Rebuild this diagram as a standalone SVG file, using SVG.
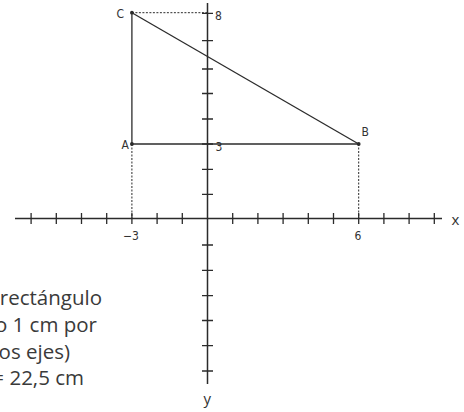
<svg xmlns="http://www.w3.org/2000/svg" width="464" height="412" viewBox="0 0 464 412">
<style>
.ax{stroke:#2b2b2b;stroke-width:1.5;fill:none}
.tk{stroke:#2b2b2b;stroke-width:1.3;fill:none}
.ln{stroke:#2b2b2b;stroke-width:1.3;fill:none}
.dt{stroke:#2b2b2b;stroke-width:1;stroke-dasharray:2 1.5;fill:none}
.pt{fill:#2b2b2b}
.lb{font-family:"Liberation Sans Narrow","DejaVu Sans Condensed","Liberation Sans",sans-serif;font-size:12px;fill:#333}
.axl{font-family:"Open Sans","Liberation Sans",sans-serif;font-size:15px;fill:#333}
.tx{font-family:"Open Sans","Liberation Sans",sans-serif;font-size:20.5px;fill:#3a3a3a;text-anchor:end}
</style>
<rect width="464" height="412" fill="#fff"/>
<g id="axes">
<line class="ax" x1="15" y1="218.5" x2="442" y2="218.5"/>
<line class="ax" x1="207.5" y1="3" x2="207.5" y2="384"/>
<g id="x-ticks">
<path class="tk" d="M31.1 213v11M56.3 213v11M81.5 213v11M106.7 213v11M131.9 213v11M157.1 213v11M182.3 213v11M232.7 213v11M257.9 213v11M283.1 213v11M308.3 213v11M333.5 213v11M358.7 213v11M383.9 213v11M409.1 213v11M434.3 213v11"/>
</g>
<g id="y-ticks">
<path class="tk" d="M202 13.3h11M202 40.7h11M202 69h11M202 93.5h11M202 119h11M202 144h11M202 169.3h11M202 194.3h11M202 245h11M202 270.3h11M202 295.7h11M202 320.5h11M202 345.7h11M202 371h11"/>
</g>
<text class="axl" x="451.5" y="225">x</text>
<text class="axl" x="203.5" y="404">y</text>
<text class="lb" x="215" y="20">8</text>
<text class="lb" x="215.5" y="150.5">3</text>
<text class="lb" x="123" y="240">−3</text>
<text class="lb" x="354.5" y="240">6</text>
</g>
<g id="connectors">
<line class="ln" x1="131.9" y1="12.7" x2="131.9" y2="144"/>
<line class="ln" x1="131.9" y1="144" x2="358.7" y2="144"/>
<line class="ln" x1="131.9" y1="12.7" x2="358.7" y2="144"/>
<line class="dt" x1="131.9" y1="12.7" x2="207.5" y2="12.7"/>
<line class="dt" x1="131.9" y1="144" x2="131.9" y2="218.5"/>
<line class="dt" x1="358.7" y1="144" x2="358.7" y2="218.5"/>
</g>
<g id="node-C">
<circle class="pt" cx="131.9" cy="12.7" r="1.9"/>
<text class="lb" x="116.5" y="18">C</text>
</g>
<g id="node-A">
<circle class="pt" cx="131.9" cy="144" r="1.9"/>
<text class="lb" x="121.5" y="149">A</text>
</g>
<g id="node-B">
<circle class="pt" cx="358.7" cy="144" r="1.9"/>
<text class="lb" x="361.5" y="136">B</text>
</g>
<g id="caption">
<text class="tx" x="102" y="305">rectángulo</text>
<text class="tx" x="97" y="332">o 1 cm por</text>
<text class="tx" x="70" y="358.5">os ejes)</text>
<text class="tx" x="84" y="385">= 22,5 cm</text>
</g>
</svg>
